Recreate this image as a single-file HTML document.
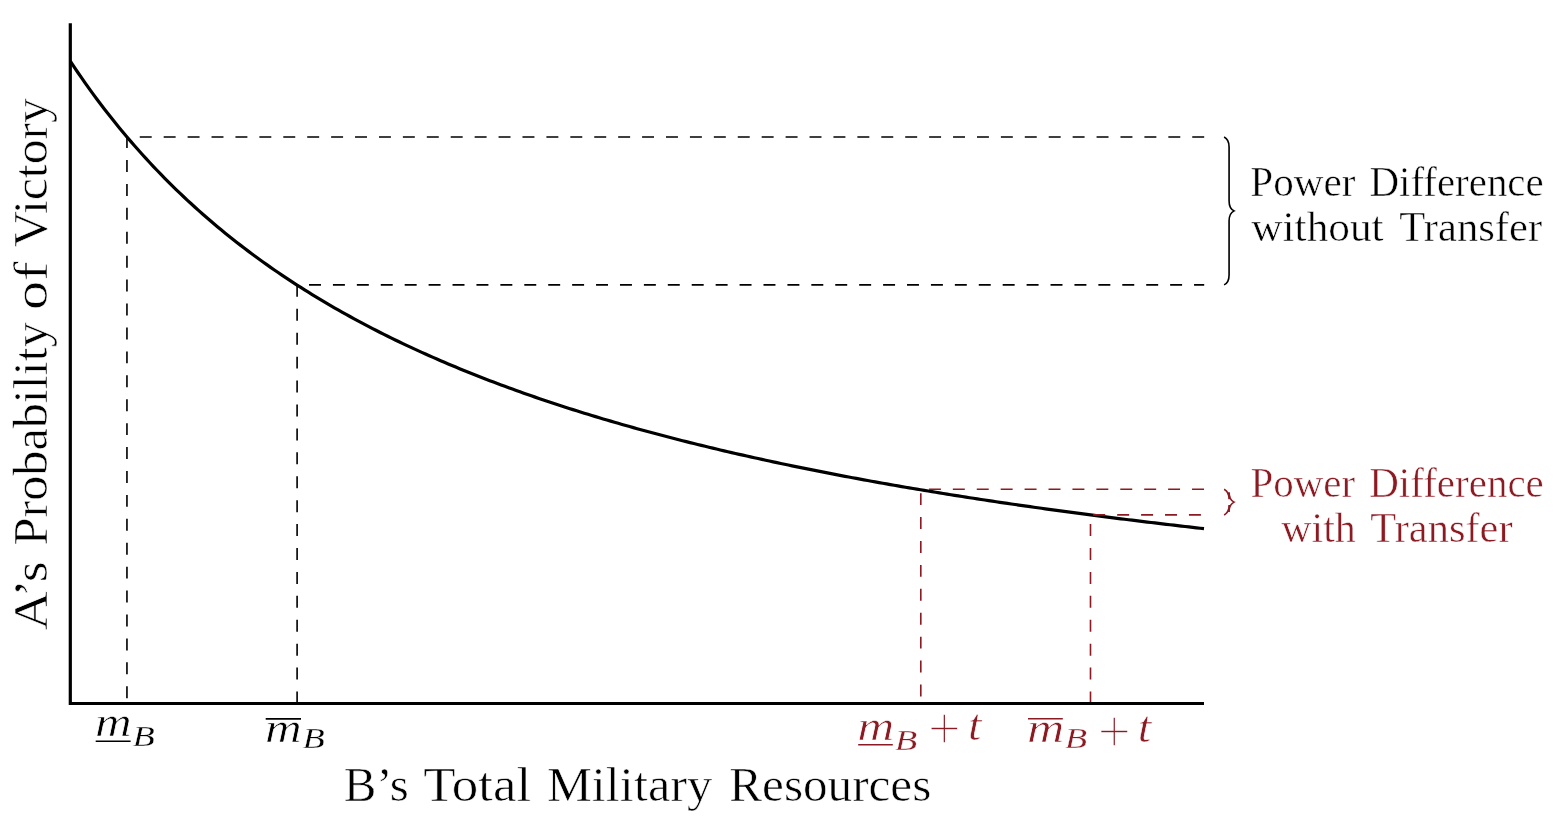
<!DOCTYPE html>
<html lang="en"><head><meta charset="utf-8"><title>Power Difference with and without Transfer</title>
<style>
html,body{margin:0;padding:0;background:#fff;}
body{width:1558px;height:824px;overflow:hidden;}
svg{display:block;}
text{font-family:"Liberation Serif",serif;}
</style></head><body>
<svg width="1558" height="824" viewBox="0 0 1558 824">
<rect width="1558" height="824" fill="#fff"/>
<path d="M70.30,61.23 L74.08,66.90 L77.86,72.48 L81.64,77.96 L85.42,83.34 L89.19,88.64 L92.97,93.84 L96.75,98.96 L100.53,103.99 L104.31,108.94 L108.09,113.80 L111.87,118.59 L115.65,123.30 L119.43,127.94 L123.21,132.50 L126.98,136.99 L130.76,141.41 L134.54,145.76 L138.32,150.05 L142.10,154.27 L145.88,158.42 L149.66,162.52 L153.44,166.55 L157.22,170.52 L161.00,174.43 L164.77,178.29 L168.55,182.09 L172.33,185.84 L176.11,189.53 L179.89,193.17 L183.67,196.76 L187.45,200.30 L191.23,203.79 L195.01,207.23 L198.79,210.63 L202.56,213.98 L206.34,217.28 L210.12,220.54 L213.90,223.76 L217.68,226.93 L221.46,230.06 L225.24,233.15 L229.02,236.20 L232.80,239.22 L236.58,242.19 L240.36,245.12 L244.13,248.02 L247.91,250.88 L251.69,253.71 L255.47,256.50 L259.25,259.25 L263.03,261.98 L266.81,264.67 L270.59,267.32 L274.37,269.95 L278.14,272.54 L281.92,275.10 L285.70,277.63 L289.48,280.14 L293.26,282.61 L297.04,285.05 L300.82,287.47 L304.60,289.86 L308.38,292.22 L312.16,294.55 L315.94,296.86 L319.71,299.14 L323.49,301.40 L327.27,303.63 L331.05,305.84 L334.83,308.02 L338.61,310.18 L342.39,312.32 L346.17,314.43 L349.95,316.52 L353.73,318.58 L357.50,320.63 L361.28,322.65 L365.06,324.66 L368.84,326.64 L372.62,328.60 L376.40,330.54 L380.18,332.46 L383.96,334.36 L387.74,336.24 L391.51,338.10 L395.29,339.95 L399.07,341.77 L402.85,343.58 L406.63,345.37 L410.41,347.14 L414.19,348.89 L417.97,350.63 L421.75,352.35 L425.53,354.05 L429.31,355.74 L433.08,357.41 L436.86,359.06 L440.64,360.70 L444.42,362.32 L448.20,363.93 L451.98,365.52 L455.76,367.10 L459.54,368.66 L463.32,370.21 L467.10,371.75 L470.87,373.27 L474.65,374.77 L478.43,376.26 L482.21,377.74 L485.99,379.21 L489.77,380.66 L493.55,382.10 L497.33,383.53 L501.11,384.94 L504.88,386.35 L508.66,387.73 L512.44,389.11 L516.22,390.48 L520.00,391.83 L523.78,393.17 L527.56,394.50 L531.34,395.82 L535.12,397.13 L538.90,398.43 L542.67,399.71 L546.45,400.99 L550.23,402.25 L554.01,403.51 L557.79,404.75 L561.57,405.98 L565.35,407.21 L569.13,408.42 L572.91,409.62 L576.69,410.82 L580.47,412.00 L584.24,413.17 L588.02,414.34 L591.80,415.49 L595.58,416.64 L599.36,417.78 L603.14,418.91 L606.92,420.03 L610.70,421.14 L614.48,422.24 L618.25,423.33 L622.03,424.42 L625.81,425.49 L629.59,426.56 L633.37,427.62 L637.15,428.67 L640.93,429.72 L644.71,430.75 L648.49,431.78 L652.27,432.80 L656.04,433.81 L659.82,434.82 L663.60,435.82 L667.38,436.81 L671.16,437.79 L674.94,438.77 L678.72,439.73 L682.50,440.70 L686.28,441.65 L690.06,442.60 L693.83,443.54 L697.61,444.47 L701.39,445.40 L705.17,446.32 L708.95,447.24 L712.73,448.14 L716.51,449.05 L720.29,449.94 L724.07,450.83 L727.85,451.71 L731.62,452.59 L735.40,453.46 L739.18,454.32 L742.96,455.18 L746.74,456.03 L750.52,456.88 L754.30,457.72 L758.08,458.56 L761.86,459.39 L765.64,460.21 L769.41,461.03 L773.19,461.84 L776.97,462.65 L780.75,463.45 L784.53,464.25 L788.31,465.04 L792.09,465.82 L795.87,466.60 L799.65,467.38 L803.43,468.15 L807.20,468.92 L810.98,469.68 L814.76,470.43 L818.54,471.19 L822.32,471.93 L826.10,472.67 L829.88,473.41 L833.66,474.14 L837.44,474.87 L841.22,475.59 L845.00,476.31 L848.77,477.02 L852.55,477.73 L856.33,478.44 L860.11,479.14 L863.89,479.83 L867.67,480.53 L871.45,481.21 L875.23,481.90 L879.01,482.58 L882.78,483.25 L886.56,483.92 L890.34,484.59 L894.12,485.25 L897.90,485.91 L901.68,486.56 L905.46,487.21 L909.24,487.86 L913.02,488.50 L916.80,489.14 L920.57,489.78 L924.35,490.41 L928.13,491.04 L931.91,491.66 L935.69,492.28 L939.47,492.90 L943.25,493.51 L947.03,494.12 L950.81,494.73 L954.59,495.33 L958.37,495.93 L962.14,496.53 L965.92,497.12 L969.70,497.71 L973.48,498.29 L977.26,498.88 L981.04,499.46 L984.82,500.03 L988.60,500.60 L992.38,501.17 L996.15,501.74 L999.93,502.30 L1003.71,502.86 L1007.49,503.42 L1011.27,503.97 L1015.05,504.52 L1018.83,505.07 L1022.61,505.61 L1026.39,506.16 L1030.17,506.70 L1033.94,507.23 L1037.72,507.76 L1041.50,508.29 L1045.28,508.82 L1049.06,509.34 L1052.84,509.87 L1056.62,510.38 L1060.40,510.90 L1064.18,511.41 L1067.96,511.92 L1071.73,512.43 L1075.51,512.94 L1079.29,513.44 L1083.07,513.94 L1086.85,514.43 L1090.63,514.93 L1094.41,515.42 L1098.19,515.91 L1101.97,516.40 L1105.75,516.88 L1109.52,517.36 L1113.30,517.84 L1117.08,518.32 L1120.86,518.79 L1124.64,519.26 L1128.42,519.73 L1132.20,520.20 L1135.98,520.67 L1139.76,521.13 L1143.54,521.59 L1147.32,522.05 L1151.09,522.50 L1154.87,522.95 L1158.65,523.41 L1162.43,523.85 L1166.21,524.30 L1169.99,524.74 L1173.77,525.19 L1177.55,525.63 L1181.33,526.06 L1185.11,526.50 L1188.88,526.93 L1192.66,527.36 L1196.44,527.79 L1200.22,528.22 L1204.00,528.64" fill="none" stroke="#000" stroke-width="3.2" stroke-linejoin="round"/>
<g fill="none" stroke-width="1.62" stroke-dasharray="11.96 11.96" stroke-linejoin="miter">
<path stroke="#8c1a22" d="M1204.0,489.3 H920.8 V703.5"/>
<path stroke="#8c1a22" d="M1090.5,703.5 V514.9 H1204.0"/>
<path stroke="#000" d="M1204.2,136.95 H126.95 V703.5"/>
<path stroke="#000" d="M297.1,703.5 V284.85 H1204.2"/>
</g>
<path d="M70.3,23.3 V703.5 H1204.0" fill="none" stroke="#000" stroke-width="3.2" stroke-linejoin="miter"/>
<path d="M1224.10,136.95 C1227.09,138.44 1229.08,141.93 1229.08,146.91 L1229.08,200.94 C1229.08,205.92 1231.07,209.41 1234.06,210.90 C1231.07,212.39 1229.08,215.88 1229.08,220.86 L1229.08,274.89 C1229.08,279.87 1227.09,283.36 1224.10,284.85" fill="none" stroke="#000" stroke-width="1.62" stroke-linejoin="miter"/>
<path d="M1224.10,489.30 C1227.09,490.79 1229.08,494.28 1229.08,499.26 L1229.08,492.14 C1229.08,497.12 1231.07,500.61 1234.06,502.10 C1231.07,503.59 1229.08,507.08 1229.08,512.06 L1229.08,504.94 C1229.08,509.92 1227.09,513.41 1224.10,514.90" fill="none" stroke="#8c1a22" stroke-width="1.62" stroke-linejoin="miter"/>
<text y="800.70" font-size="49.4" fill="#000" stroke="#fff" stroke-width="0.6" ><tspan x="343.69" textLength="65.21" lengthAdjust="spacingAndGlyphs">B’s</tspan> <tspan x="423.20" textLength="108.13" lengthAdjust="spacingAndGlyphs">Total</tspan> <tspan x="546.95" textLength="165.41" lengthAdjust="spacingAndGlyphs">Military</tspan> <tspan x="729.28" textLength="202.07" lengthAdjust="spacingAndGlyphs">Resources</tspan></text>
<g transform="translate(46.7,629.4) rotate(-90)"><text y="0.00" font-size="49.4" fill="#000" stroke="#fff" stroke-width="0.6" ><tspan x="-0.78" textLength="68.99" lengthAdjust="spacingAndGlyphs">A’s</tspan> <tspan x="83.85" textLength="223.41" lengthAdjust="spacingAndGlyphs">Probability</tspan> <tspan x="319.33" textLength="48.60" lengthAdjust="spacingAndGlyphs">of</tspan> <tspan x="382.36" textLength="149.01" lengthAdjust="spacingAndGlyphs">Victory</tspan></text></g>
<text y="195.70" font-size="41.6" fill="#000" stroke="#fff" stroke-width="0.5" ><tspan x="1250.37" textLength="104.95" lengthAdjust="spacingAndGlyphs">Power</tspan> <tspan x="1369.47" textLength="174.22" lengthAdjust="spacingAndGlyphs">Difference</tspan></text>
<text y="241.40" font-size="41.6" fill="#000" stroke="#fff" stroke-width="0.5" ><tspan x="1251.30" textLength="132.35" lengthAdjust="spacingAndGlyphs">without</tspan> <tspan x="1399.25" textLength="142.93" lengthAdjust="spacingAndGlyphs">Transfer</tspan></text>
<text y="496.60" font-size="41.6" fill="#8c1a22" stroke="#fff" stroke-width="0.5" ><tspan x="1250.47" textLength="104.65" lengthAdjust="spacingAndGlyphs">Power</tspan> <tspan x="1369.27" textLength="174.52" lengthAdjust="spacingAndGlyphs">Difference</tspan></text>
<text y="542.00" font-size="41.6" fill="#8c1a22" stroke="#fff" stroke-width="0.5" ><tspan x="1281.20" textLength="74.64" lengthAdjust="spacingAndGlyphs">with</tspan> <tspan x="1370.25" textLength="142.33" lengthAdjust="spacingAndGlyphs">Transfer</tspan></text>
<g>
<text transform="matrix(1.2729 0 0 1.0237 94.95 736.37)" font-size="40" font-style="italic" fill="#000" stroke="#fff" stroke-width="0.6">m</text>
<text transform="matrix(0.9121 0 0 0.7466 132.56 745.68)" font-size="40" font-style="italic" fill="#000" stroke="#fff" stroke-width="0.4">B</text>
<line x1="95.7" x2="130.6" y1="741.2" y2="741.2" stroke="#000" stroke-width="1.62"/>
</g><g>
<text transform="matrix(1.2729 0 0 0.9860 264.95 742.47)" font-size="40" font-style="italic" fill="#000" stroke="#fff" stroke-width="0.6">m</text>
<text transform="matrix(0.9121 0 0 0.7427 302.56 747.78)" font-size="40" font-style="italic" fill="#000" stroke="#fff" stroke-width="0.4">B</text>
<line x1="265.7" x2="301.0" y1="718.9" y2="718.9" stroke="#000" stroke-width="1.62"/>
</g><g>
<text transform="matrix(1.2845 0 0 0.9968 857.23 740.17)" font-size="40" font-style="italic" fill="#8c1a22" stroke="#fff" stroke-width="0.6">m</text>
<text transform="matrix(0.9207 0 0 0.7389 894.85 749.78)" font-size="40" font-style="italic" fill="#8c1a22" stroke="#fff" stroke-width="0.4">B</text>
<line x1="858.2" x2="892.8" y1="744.8" y2="744.8" stroke="#8c1a22" stroke-width="1.62"/>
<text transform="matrix(1.4704 0 0 1.5190 927.73 749.20)" font-size="40" font-style="normal" fill="#8c1a22" stroke="#fff" stroke-width="1.15">+</text>
<text transform="matrix(1.2050 0 0 1.1206 967.91 739.78)" font-size="40" font-style="italic" fill="#8c1a22" stroke="#fff" stroke-width="0.5">t</text>
</g><g>
<text transform="matrix(1.2922 0 0 0.9806 1027.12 742.27)" font-size="40" font-style="italic" fill="#8c1a22" stroke="#fff" stroke-width="0.6">m</text>
<text transform="matrix(0.9164 0 0 0.7389 1064.75 747.88)" font-size="40" font-style="italic" fill="#8c1a22" stroke="#fff" stroke-width="0.4">B</text>
<line x1="1028.0" x2="1062.8" y1="718.8" y2="718.8" stroke="#8c1a22" stroke-width="1.62"/>
<text transform="matrix(1.4865 0 0 1.5190 1097.50 751.60)" font-size="40" font-style="normal" fill="#8c1a22" stroke="#fff" stroke-width="1.15">+</text>
<text transform="matrix(1.2150 0 0 1.1118 1137.79 741.78)" font-size="40" font-style="italic" fill="#8c1a22" stroke="#fff" stroke-width="0.5">t</text>
</g>
</svg></body></html>
